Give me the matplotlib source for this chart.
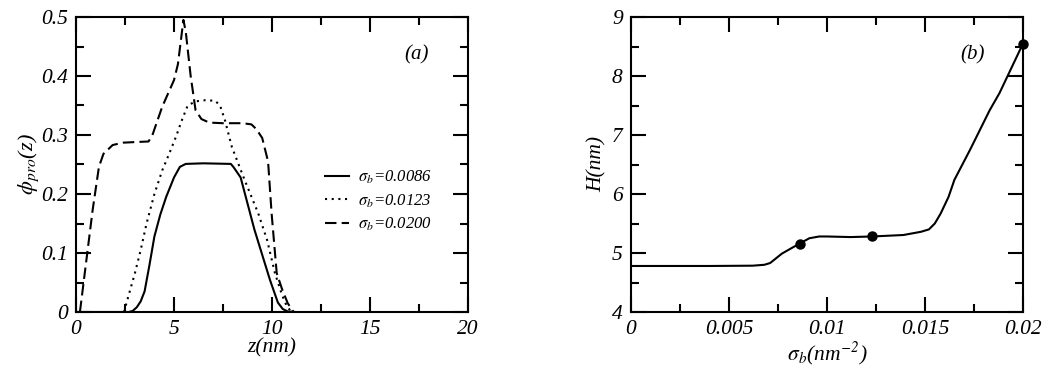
import numpy as np
import matplotlib
matplotlib.use('Agg')
import matplotlib.pyplot as plt
from matplotlib.ticker import MultipleLocator, FuncFormatter

plt.rcParams['font.family'] = 'Liberation Serif'
plt.rcParams['font.style'] = 'italic'
plt.rcParams['mathtext.fontset'] = 'stix'

# panel (a): polymer volume fraction profiles
z_0086 = [0, 2.7, 2.9, 3.1, 3.3, 3.5, 3.75, 4.0, 4.3, 4.6, 5.0, 5.3, 5.6, 6.5, 7.9, 8.05, 8.4, 9.1, 9.9, 10.3,
          10.55, 10.8, 11.2]
phi_0086 = [0, 0, 0.002, 0.008, 0.018, 0.035, 0.08, 0.128, 0.165, 0.195, 0.228, 0.246, 0.251, 0.252, 0.251, 0.245,
            0.228, 0.14, 0.054, 0.016, 0.005, 0.001, 0]

z_0123 = [2.45, 2.7, 3.0, 3.3, 3.6, 4.0, 4.4, 4.8, 5.1, 5.4, 5.7, 6.1, 6.6, 7.1, 7.35, 7.6, 7.95, 8.6, 9.3, 9.75,
          10.15, 10.5, 10.75, 11.0]
phi_0123 = [0, 0.03, 0.065, 0.105, 0.15, 0.2, 0.24, 0.272, 0.297, 0.325, 0.35, 0.357, 0.359, 0.358, 0.35, 0.325,
            0.28, 0.224, 0.167, 0.122, 0.066, 0.03, 0.01, 0]

z_0200 = [0.2, 0.5, 0.85, 1.17, 1.4, 1.87, 2.4, 3.0, 3.7, 3.9, 4.4, 5.0, 5.2, 5.35, 5.48, 5.6, 5.85, 6.1, 6.4, 6.8,
          7.5, 8.5, 8.95, 9.2, 9.5, 9.8, 9.98, 10.24, 10.5, 10.8, 11.1]
phi_0200 = [0, 0.08, 0.173, 0.246, 0.268, 0.283, 0.287, 0.288, 0.289, 0.3, 0.348, 0.393, 0.42, 0.46, 0.495, 0.475,
            0.40, 0.342, 0.327, 0.321, 0.32, 0.32, 0.318, 0.31, 0.295, 0.255, 0.167, 0.066, 0.04, 0.015, 0.0]

# panel (b): brush height vs grafting density
sigma = [0, 0.002, 0.004, 0.0062, 0.0068, 0.0071, 0.0077, 0.0086, 0.0091, 0.0096, 0.01, 0.0112, 0.0123, 0.0139,
         0.0148, 0.0152, 0.0155, 0.0158, 0.0162, 0.0165, 0.0173, 0.0183, 0.0188, 0.0192, 0.0196, 0.02]
H = [4.78, 4.78, 4.78, 4.785, 4.80, 4.83, 4.99, 5.16, 5.25, 5.28, 5.28, 5.27, 5.28, 5.305, 5.36, 5.40, 5.5, 5.67,
     5.95, 6.24, 6.75, 7.42, 7.71, 7.99, 8.27, 8.55]
sigma_pts = [0.0086, 0.0123, 0.02]
H_pts = [5.16, 5.28, 8.55]

fig = plt.figure(figsize=(10.5, 3.8), dpi=100)
ax1 = fig.add_axes([76 / 1050, 68 / 380, 392 / 1050, 295 / 380])
ax2 = fig.add_axes([631 / 1050, 68 / 380, 392 / 1050, 295 / 380])

lw = 1.5
ax1.plot(z_0086, phi_0086, color='black', lw=lw, label=r'$\mathrm{\sigma}_b$=0.0086')
ax1.plot(z_0123, phi_0123, color='black', lw=lw, dashes=(1, 2.2), label=r'$\mathrm{\sigma}_b$=0.0123')
ax1.plot(z_0200, phi_0200, color='black', lw=lw, dashes=(5.5, 2.5), label=r'$\mathrm{\sigma}_b$=0.0200')

ax2.plot(sigma, H, color='black', lw=lw)
ax2.plot(sigma_pts, H_pts, 'o', color='black', markersize=6.5, clip_on=False, zorder=5)

ax1.set_xlim(0, 20)
ax1.set_ylim(0, 0.5)
ax1.xaxis.set_major_locator(MultipleLocator(5))
ax1.xaxis.set_minor_locator(MultipleLocator(2.5))
ax1.yaxis.set_major_locator(MultipleLocator(0.1))
ax1.yaxis.set_minor_locator(MultipleLocator(0.05))

ax2.set_xlim(0, 0.02)
ax2.set_ylim(4, 9)
ax2.xaxis.set_major_locator(MultipleLocator(0.005))
ax2.xaxis.set_minor_locator(MultipleLocator(0.0025))
ax2.yaxis.set_major_locator(MultipleLocator(1))
ax2.yaxis.set_minor_locator(MultipleLocator(0.5))

fmt = FuncFormatter(lambda v, p: '%g' % round(v, 6))
for ax in (ax1, ax2):
    ax.xaxis.set_major_formatter(fmt)
    ax.yaxis.set_major_formatter(fmt)
    ax.tick_params(which='both', direction='in', top=True, right=True, width=1.5, labelsize=15.5, pad=6)
    ax.tick_params(which='major', length=11)
    ax.tick_params(which='minor', length=6)
    for sp in ax.spines.values():
        sp.set_linewidth(1.5)

ax1.set_xlabel('z(nm)', fontsize=15.5, labelpad=-1)
ax1.set_ylabel(r'$\mathrm{\phi}_{pro}$(z)', fontsize=16, labelpad=0)
ax2.set_xlabel(r'$\mathrm{\sigma}_b$(nm$^{-2}$)', fontsize=15.5, labelpad=0)
ax2.set_ylabel('H(nm)', fontsize=15.5, labelpad=4)

ax1.text(0.869, 0.871, '(a)', transform=ax1.transAxes, fontsize=15, ha='center', va='center')
ax2.text(0.872, 0.871, '(b)', transform=ax2.transAxes, fontsize=15, ha='center', va='center')

ax1.legend(loc='upper left', bbox_to_anchor=(0.635, 0.485), frameon=False, fontsize=12, handlelength=1.45,
           handletextpad=0.55, labelspacing=0.35, borderpad=0, borderaxespad=0)

fig.savefig('out.png', dpi=100)
